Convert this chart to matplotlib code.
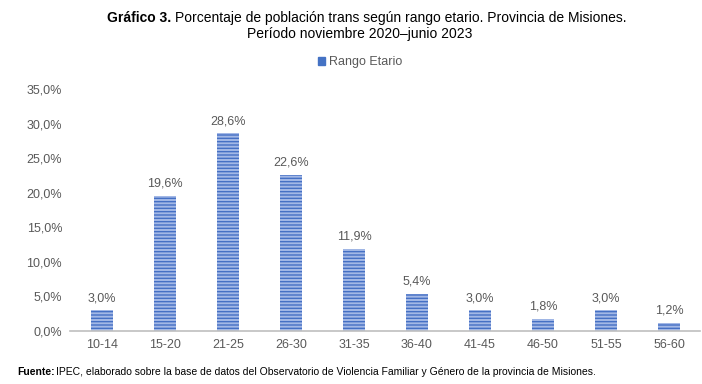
import numpy as np
import matplotlib.pyplot as plt

plt.rcParams['font.family'] = ['Liberation Sans', 'DejaVu Sans']
plt.rcParams['hatch.linewidth'] = 1.0

categories = ["10-14", "15-20", "21-25", "26-30", "31-35", "36-40",
              "41-45", "46-50", "51-55", "56-60"]
values = [3.0, 19.6, 28.6, 22.6, 11.9, 5.4, 3.0, 1.8, 3.0, 1.2]
yticks = [0, 5, 10, 15, 20, 25, 30, 35]

gray = '#595959'

fig = plt.figure(figsize=(7.02, 3.84), dpi=100)
ax = fig.add_axes([0.1004, 0.138, 0.8974, 0.630])

x = np.arange(len(categories))
ax.bar(x, values, width=0.35, color='#a3b8e6', edgecolor='#4570c4',
       hatch='-----', linewidth=0, label='Rango Etario')

for xi, v in zip(x, values):
    ax.text(xi, v + 0.9, f"{v:.1f}%".replace('.', ','), ha='center', va='bottom',
            fontsize=9, color=gray)

ax.set_xlim(-0.5, len(categories) - 0.5)
ax.set_ylim(0, 35)
ax.set_xticks(x)
ax.set_xticklabels(categories)
ax.set_yticks(yticks)
ax.set_yticklabels([f"{t:.1f}%".replace('.', ',') for t in yticks])
ax.tick_params(axis='both', length=0, labelsize=9, colors=gray)
ax.tick_params(axis='x', pad=6)
ax.tick_params(axis='y', pad=6)
for s in ['top', 'right', 'left']:
    ax.spines[s].set_visible(False)
ax.spines['bottom'].set_color('#bfbfbf')
ax.spines['bottom'].set_linewidth(1.2)

leg = fig.legend(handles=[plt.Rectangle((0, 0), 1, 1, color='#4472c4')],
                 labels=['Rango Etario'], loc='center', bbox_to_anchor=(0.513, 0.838),
                 frameon=False, fontsize=9, handlelength=0.6, handleheight=0.6,
                 handletextpad=0.3)
for t in leg.get_texts():
    t.set_color(gray)

# title: bold lead-in followed by regular text
title1 = "Porcentaje de población trans según rango etario. Provincia de Misiones."
t_bold = fig.text(0.152, 0.953, "Gráfico 3.", ha='left', va='center', fontsize=10,
                  fontweight='bold')
fig.canvas.draw()
bb = t_bold.get_window_extent()
x0 = fig.transFigure.inverted().transform((bb.x1 + 4, 0))[0]
fig.text(x0, 0.953, title1, ha='left', va='center', fontsize=10)
fig.text(0.513, 0.911, "Período noviembre 2020–junio 2023", ha='center', va='center',
         fontsize=10)

t_f = fig.text(0.024, 0.031, "Fuente:", ha='left', va='center', fontsize=7.5,
               fontweight='bold')
fig.canvas.draw()
bb = t_f.get_window_extent()
x1 = fig.transFigure.inverted().transform((bb.x1 + 2, 0))[0]
fig.text(x1, 0.031, "IPEC, elaborado sobre la base de datos del Observatorio de Violencia "
         "Familiar y Género de la provincia de Misiones.", ha='left', va='center', fontsize=7.5)

fig.savefig('out.png', dpi=100)
